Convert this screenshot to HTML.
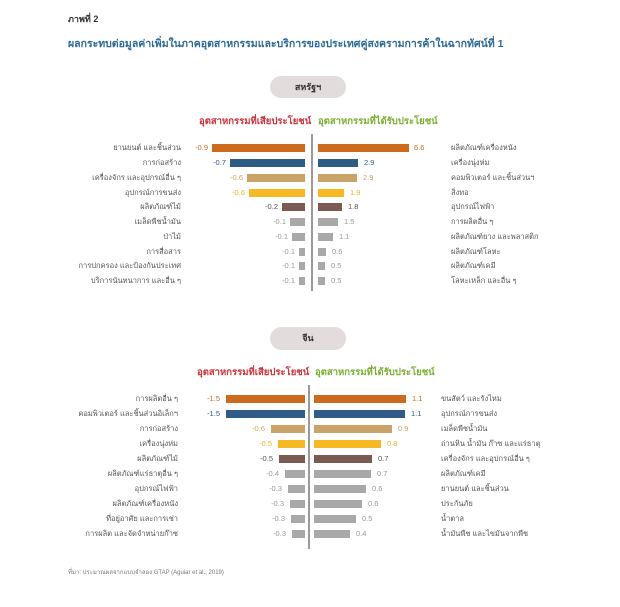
<!DOCTYPE html>
<html><head><meta charset="utf-8">
<style>
body{margin:0;width:620px;height:607px;background:#fff;position:relative;overflow:hidden;font-family:"Liberation Sans","Noto Sans CJK SC",sans-serif}
div{position:absolute}
.t{font-size:7.5px;color:#555;white-space:nowrap;line-height:10px}
.r{text-align:right}
.b{height:8px}
.o{background:#cc6a1e}.bl{background:#2e5c86}.tn{background:#c9a368}.y{background:#f6b923}.br{background:#7b5a52}.g{background:#a8a8a8}
.co{color:#cc6a1e}.cb{color:#2e5c86}.ct{color:#c9a368}.cy{color:#f0b020}.cbr{color:#555}.cg{color:#999}
.pill{background:#e3dcdc;border-radius:12px;font-size:9px;font-weight:bold;color:#333;text-align:center}
.h{font-size:9.5px;font-weight:bold;white-space:nowrap}
</style></head><body>
<div style="left:68px;top:12px;font-size:9px;font-weight:bold;color:#333">ภาพที่ 2</div>
<div style="left:68px;top:35px;font-size:10.5px;font-weight:bold;color:#2e6a96;white-space:nowrap">ผลกระทบต่อมูลค่าเพิ่มในภาคอุตสาหกรรมและบริการของประเทศคู่สงครามการค้าในฉากทัศน์ที่ 1</div>

<!-- US -->
<div class="pill" style="left:270px;top:76px;width:76px;height:22px;line-height:22px">สหรัฐฯ</div>
<div class="h" style="left:199px;top:114px;color:#d0313a">อุตสาหกรรมที่เสียประโยชน์</div>
<div class="h" style="left:318px;top:114px;color:#7ab030">อุตสาหกรรมที่ได้รับประโยชน์</div>
<div style="left:311px;top:134px;width:1.5px;height:157px;background:#999"></div>

<div class="b o" style="left:212px;top:144px;width:93px"></div><div class="b o" style="left:318px;top:144px;width:91px"></div>
<div class="b bl" style="left:230px;top:159px;width:75px"></div><div class="b bl" style="left:318px;top:159px;width:40px"></div>
<div class="b tn" style="left:247px;top:174px;width:58px"></div><div class="b tn" style="left:318px;top:174px;width:39px"></div>
<div class="b y" style="left:249px;top:189px;width:56px"></div><div class="b y" style="left:318px;top:189px;width:26px"></div>
<div class="b br" style="left:282px;top:203px;width:23px"></div><div class="b br" style="left:318px;top:203px;width:24px"></div>
<div class="b g" style="left:290px;top:218px;width:15px"></div><div class="b g" style="left:318px;top:218px;width:20px"></div>
<div class="b g" style="left:292px;top:233px;width:13px"></div><div class="b g" style="left:318px;top:233px;width:15px"></div>
<div class="b g" style="left:299px;top:248px;width:6px"></div><div class="b g" style="left:318px;top:248px;width:8px"></div>
<div class="b g" style="left:299px;top:262px;width:6px"></div><div class="b g" style="left:318px;top:262px;width:7px"></div>
<div class="b g" style="left:299px;top:277px;width:6px"></div><div class="b g" style="left:318px;top:277px;width:7px"></div>

<div class="t r co" style="right:412px;top:143px">-0.9</div><div class="t co" style="left:414px;top:143px">6.6</div>
<div class="t r cb" style="right:394px;top:158px">-0.7</div><div class="t cb" style="left:364px;top:158px">2.9</div>
<div class="t r ct" style="right:377px;top:173px">-0.6</div><div class="t ct" style="left:363px;top:173px">2.9</div>
<div class="t r cy" style="right:375px;top:188px">-0.6</div><div class="t cy" style="left:350px;top:188px">1.9</div>
<div class="t r cbr" style="right:342px;top:202px">-0.2</div><div class="t cbr" style="left:348px;top:202px">1.8</div>
<div class="t r cg" style="right:334px;top:217px">-0.1</div><div class="t cg" style="left:344px;top:217px">1.5</div>
<div class="t r cg" style="right:332px;top:232px">-0.1</div><div class="t cg" style="left:339px;top:232px">1.1</div>
<div class="t r cg" style="right:325px;top:247px">-0.1</div><div class="t cg" style="left:332px;top:247px">0.6</div>
<div class="t r cg" style="right:325px;top:261px">-0.1</div><div class="t cg" style="left:331px;top:261px">0.5</div>
<div class="t r cg" style="right:325px;top:276px">-0.1</div><div class="t cg" style="left:331px;top:276px">0.5</div>

<div class="t r" style="right:439px;top:143px">ยานยนต์ และชิ้นส่วน</div><div class="t" style="left:451px;top:143px">ผลิตภัณฑ์เครื่องหนัง</div>
<div class="t r" style="right:439px;top:158px">การก่อสร้าง</div><div class="t" style="left:451px;top:158px">เครื่องนุ่งห่ม</div>
<div class="t r" style="right:439px;top:173px">เครื่องจักร และอุปกรณ์อื่น ๆ</div><div class="t" style="left:451px;top:173px">คอมพิวเตอร์ และชิ้นส่วนฯ</div>
<div class="t r" style="right:439px;top:188px">อุปกรณ์การขนส่ง</div><div class="t" style="left:451px;top:188px">สิ่งทอ</div>
<div class="t r" style="right:439px;top:202px">ผลิตภัณฑ์ไม้</div><div class="t" style="left:451px;top:202px">อุปกรณ์ไฟฟ้า</div>
<div class="t r" style="right:439px;top:217px">เมล็ดพืชน้ำมัน</div><div class="t" style="left:451px;top:217px">การผลิตอื่น ๆ</div>
<div class="t r" style="right:439px;top:232px">ป่าไม้</div><div class="t" style="left:451px;top:232px">ผลิตภัณฑ์ยาง และพลาสติก</div>
<div class="t r" style="right:439px;top:247px">การสื่อสาร</div><div class="t" style="left:451px;top:247px">ผลิตภัณฑ์โลหะ</div>
<div class="t r" style="right:439px;top:261px">การปกครอง และป้องกันประเทศ</div><div class="t" style="left:451px;top:261px">ผลิตภัณฑ์เคมี</div>
<div class="t r" style="right:439px;top:276px">บริการนันทนาการ และอื่น ๆ</div><div class="t" style="left:451px;top:276px">โลหะเหล็ก และอื่น ๆ</div>

<!-- China -->
<div class="pill" style="left:270px;top:327px;width:76px;height:23px;line-height:23px">จีน</div>
<div class="h" style="left:197px;top:365px;color:#d0313a">อุตสาหกรรมที่เสียประโยชน์</div>
<div class="h" style="left:315px;top:365px;color:#7ab030">อุตสาหกรรมที่ได้รับประโยชน์</div>
<div style="left:308px;top:385px;width:1.5px;height:164px;background:#999"></div>

<div class="b o" style="left:226px;top:395px;width:79px"></div><div class="b o" style="left:314px;top:395px;width:92px"></div>
<div class="b bl" style="left:226px;top:410px;width:79px"></div><div class="b bl" style="left:314px;top:410px;width:91px"></div>
<div class="b tn" style="left:271px;top:425px;width:34px"></div><div class="b tn" style="left:314px;top:425px;width:78px"></div>
<div class="b y" style="left:278px;top:440px;width:27px"></div><div class="b y" style="left:314px;top:440px;width:67px"></div>
<div class="b br" style="left:279px;top:455px;width:26px"></div><div class="b br" style="left:314px;top:455px;width:58px"></div>
<div class="b g" style="left:285px;top:470px;width:20px"></div><div class="b g" style="left:314px;top:470px;width:57px"></div>
<div class="b g" style="left:288px;top:485px;width:17px"></div><div class="b g" style="left:314px;top:485px;width:52px"></div>
<div class="b g" style="left:290px;top:500px;width:15px"></div><div class="b g" style="left:314px;top:500px;width:48px"></div>
<div class="b g" style="left:291px;top:515px;width:14px"></div><div class="b g" style="left:314px;top:515px;width:42px"></div>
<div class="b g" style="left:292px;top:530px;width:13px"></div><div class="b g" style="left:314px;top:530px;width:36px"></div>

<div class="t r co" style="right:400px;top:394px">-1.5</div><div class="t co" style="left:412px;top:394px">1.1</div>
<div class="t r cb" style="right:400px;top:409px">-1.5</div><div class="t cb" style="left:411px;top:409px">1.1</div>
<div class="t r ct" style="right:355px;top:424px">-0.6</div><div class="t ct" style="left:398px;top:424px">0.9</div>
<div class="t r cy" style="right:348px;top:439px">-0.5</div><div class="t cy" style="left:387px;top:439px">0.8</div>
<div class="t r cbr" style="right:347px;top:454px">-0.5</div><div class="t cbr" style="left:378px;top:454px">0.7</div>
<div class="t r cg" style="right:341px;top:469px">-0.4</div><div class="t cg" style="left:377px;top:469px">0.7</div>
<div class="t r cg" style="right:338px;top:484px">-0.3</div><div class="t cg" style="left:372px;top:484px">0.6</div>
<div class="t r cg" style="right:336px;top:499px">-0.3</div><div class="t cg" style="left:368px;top:499px">0.6</div>
<div class="t r cg" style="right:335px;top:514px">-0.3</div><div class="t cg" style="left:362px;top:514px">0.5</div>
<div class="t r cg" style="right:334px;top:529px">-0.3</div><div class="t cg" style="left:356px;top:529px">0.4</div>

<div class="t r" style="right:442px;top:394px">การผลิตอื่น ๆ</div><div class="t" style="left:441px;top:394px">ขนสัตว์ และรังไหม</div>
<div class="t r" style="right:442px;top:409px">คอมพิวเตอร์ และชิ้นส่วนอิเล็กฯ</div><div class="t" style="left:441px;top:409px">อุปกรณ์การขนส่ง</div>
<div class="t r" style="right:442px;top:424px">การก่อสร้าง</div><div class="t" style="left:441px;top:424px">เมล็ดพืชน้ำมัน</div>
<div class="t r" style="right:442px;top:439px">เครื่องนุ่งห่ม</div><div class="t" style="left:441px;top:439px">ถ่านหิน น้ำมัน ก๊าซ และแร่ธาตุ</div>
<div class="t r" style="right:442px;top:454px">ผลิตภัณฑ์ไม้</div><div class="t" style="left:441px;top:454px">เครื่องจักร และอุปกรณ์อื่น ๆ</div>
<div class="t r" style="right:442px;top:469px">ผลิตภัณฑ์แร่ธาตุอื่น ๆ</div><div class="t" style="left:441px;top:469px">ผลิตภัณฑ์เคมี</div>
<div class="t r" style="right:442px;top:484px">อุปกรณ์ไฟฟ้า</div><div class="t" style="left:441px;top:484px">ยานยนต์ และชิ้นส่วน</div>
<div class="t r" style="right:442px;top:499px">ผลิตภัณฑ์เครื่องหนัง</div><div class="t" style="left:441px;top:499px">ประกันภัย</div>
<div class="t r" style="right:442px;top:514px">ที่อยู่อาศัย และการเช่า</div><div class="t" style="left:441px;top:514px">น้ำตาล</div>
<div class="t r" style="right:442px;top:529px">การผลิต และจัดจำหน่ายก๊าซ</div><div class="t" style="left:441px;top:529px">น้ำมันพืช และไขมันจากพืช</div>

<div style="left:68px;top:567px;font-size:6px;color:#777;white-space:nowrap">ที่มา: ประมาณผลจากแบบจำลอง GTAP (Aguiar et al., 2019)</div>
</body></html>
